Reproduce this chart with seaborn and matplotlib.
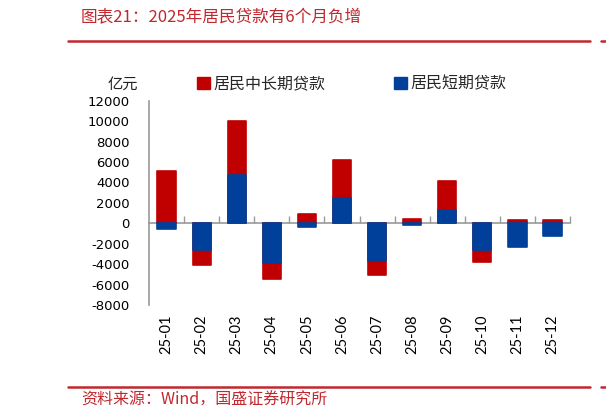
import matplotlib
matplotlib.use("Agg")
import matplotlib.pyplot as plt
import seaborn as sns
import numpy as np
import pandas as pd
from matplotlib.patches import Patch
from matplotlib.lines import Line2D

months = ["25-01", "25-02", "25-03", "25-04", "25-05", "25-06",
          "25-07", "25-08", "25-09", "25-10", "25-11", "25-12"]
short_term = [-600, -2600, 4700, -3850, -350, 2450, -3650, -200, 1250, -2650, -2300, -1200]
mid_long = [5100, -1450, 5350, -1600, 900, 3700, -1450, 450, 2850, -1100, 300, 300]
yticks = [-8000, -6000, -4000, -2000, 0, 2000, 4000, 6000, 8000, 10000, 12000]

RED = "#C00000"
BLUE = "#00409A"
GRAY = "#9A9A9A"
CJK = ["Noto Sans CJK SC", "DejaVu Sans"]

sns.set_theme(style="white")
plt.rcParams["font.family"] = CJK

s = np.array(short_term, dtype=float)
m = np.array(mid_long, dtype=float)
# red stacks on blue when same sign
red_extent = np.where(np.sign(s) == np.sign(m), s + m, m)
df = pd.DataFrame({"month": months, "short": s, "red_extent": red_extent})

fig = plt.figure(figsize=(6.06, 4.15), dpi=100)
ax = fig.add_axes([0.2459, 0.2651, 0.6947, 0.4923])

bar_kw = dict(width=0.52, saturation=1, linewidth=1.2)
sns.barplot(data=df, x="month", y="red_extent", color=RED, edgecolor=RED,
            ax=ax, **bar_kw)
sns.barplot(data=df, x="month", y="short", color=BLUE, edgecolor=BLUE,
            ax=ax, **bar_kw)
for p in ax.patches:
    p.set_joinstyle("round")

ax.set_xlim(-0.5, len(months) - 0.5)
ax.set_ylim(-8000, 12000)
ax.set_yticks(yticks)
ax.set_yticklabels([str(v) for v in yticks], fontsize=9.5,
                   family="DejaVu Sans", color="black")
ax.set_xlabel("")
ax.set_ylabel("")
ax.tick_params(axis="y", direction="in", length=4, color=GRAY, width=1, pad=14)
ax.tick_params(axis="x", length=0, pad=7)
for lbl in ax.get_xticklabels():
    lbl.set_rotation(90)
    lbl.set_fontsize(10.5)
    lbl.set_family("Lato")
    lbl.set_color("black")

for sp in ["top", "right", "bottom"]:
    ax.spines[sp].set_visible(False)
ax.spines["left"].set_color(GRAY)
ax.spines["left"].set_linewidth(1.2)

# zero line axis with category boundary ticks
zero_frac = (0 - yticks[0]) / (yticks[-1] - yticks[0])
sec = ax.secondary_xaxis(zero_frac)
sec.set_xticks(np.arange(len(months)) + 0.5)
sec.set_xticklabels([])
sec.tick_params(direction="in", length=5, color=GRAY, width=1)
sec.spines["bottom"].set_color(GRAY)
sec.spines["bottom"].set_linewidth(1.2)

# unit label
fig.text(123 / 606, 1 - 84 / 415, "亿元", fontsize=11, ha="center", va="center",
         family=CJK, color="#222222")

# legend
handles = [Patch(facecolor=RED, edgecolor=RED), Patch(facecolor=BLUE, edgecolor=BLUE)]
fig.legend(handles, ["居民中长期贷款", "居民短期贷款"], ncol=2, frameon=False,
           loc="center left", bbox_to_anchor=(191 / 606, 1 - 84 / 415),
           handlelength=0.8, handleheight=0.8, handletextpad=0.2,
           columnspacing=4.3, borderaxespad=0, prop={"family": CJK, "size": 11.5})

# title and decorative lines
TRED = "#C0282E"
fig.text(81 / 606, 1 - 18 / 415, "图表21：2025年居民贷款有6个月负增", fontsize=12,
         color=TRED, ha="left", va="center", family=CJK, style="italic")
fig.add_artist(Line2D([68 / 606, 590 / 606], [1 - 41 / 415] * 2, color=TRED, lw=1.8))
fig.add_artist(Line2D([601 / 606, 1.0], [1 - 41 / 415] * 2, color=TRED, lw=1.8))
fig.add_artist(Line2D([68 / 606, 590 / 606], [1 - 387 / 415] * 2, color=TRED, lw=1.8))
fig.add_artist(Line2D([601 / 606, 1.0], [1 - 387 / 415] * 2, color=TRED, lw=1.8))
fig.text(81 / 606, 1 - 400 / 415, "资料来源：Wind，国盛证券研究所", fontsize=11.5,
         color=TRED, ha="left", va="center", family=CJK, style="italic")

fig.savefig("out.png", dpi=100)
